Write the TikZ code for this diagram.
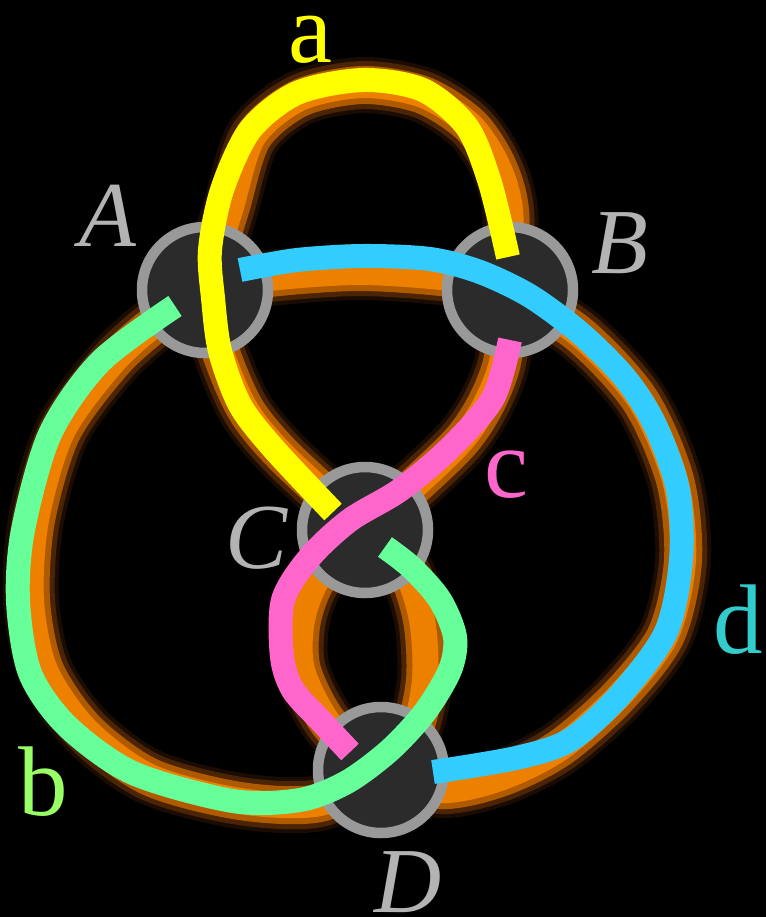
\documentclass[tikz,border=0pt]{standalone}
\usepackage{fontspec}
\setmainfont{Liberation Serif}
\definecolor{glowfringe}{HTML}{1A0C02}
\definecolor{glowdark}{HTML}{4A2404}
\definecolor{glowmid}{HTML}{B05A00}
\definecolor{glowcore}{HTML}{EE8000}
\definecolor{vfill}{HTML}{2B2B2B}
\definecolor{vring}{HTML}{999999}
\definecolor{capgrey}{HTML}{B3B3B3}
\definecolor{sa}{HTML}{FFFF00}
\definecolor{sb}{HTML}{66FF99}
\definecolor{sc}{HTML}{FF66CC}
\definecolor{sd}{HTML}{33CCFF}
\definecolor{lb}{HTML}{99FF66}
\definecolor{ld}{HTML}{33CCCC}
\tikzset{
  vertex/.style={circle, minimum size=126pt, inner sep=0pt, fill=vfill, draw=vring, line width=10.5pt},
  strand/.style={line width=24pt, line cap=butt, line join=round},
  capl/.style={text=capgrey, inner sep=0pt, anchor=base, font=\fontsize{93}{93}\selectfont\itshape},
  lowl/.style={inner sep=0pt, anchor=base, font=\fontsize{99}{99}\selectfont},
}
\begin{document}
\begin{tikzpicture}[x=1pt,y=-1pt]
\fill[black] (0,0) rectangle (766,917);
\useasboundingbox (0,0) rectangle (766,917);
% vertex positions
\coordinate (cA) at (205,290);
\coordinate (cB) at (510,290);
\coordinate (cC) at (365,530);
\coordinate (cD) at (381,770);
% glow (underlying knot shadow)
\foreach \w/\c in {56/glowfringe,48/glowdark,38/glowmid,26/glowcore}{
  \draw[line width=\w pt, draw=\c, line cap=round, line join=round]
    plot[smooth] coordinates {(cA) (230,210) (253,137) (300,98) (363,85) (423,95) (470,125) (497,165) (510,210) (cB)}
    plot[smooth] coordinates {(cA) (270,278) (360,272) (450,278) (cB)}
    plot[smooth] coordinates {(cA) (220,350) (246,410) (286,458) (cC)}
    plot[smooth] coordinates {(cB) (500,370) (462,440) (cC)}
    plot[smooth] coordinates {(cA) (160,320) (113,362) (62,432) (36,520) (31,600) (45,670) (86,730) (150,777) (240,801) (320,803) (cD)}
    plot[smooth] coordinates {(cB) (580,335) (640,400) (675,480) (683,560) (666,635) (620,695) (560,748) (500,778) (440,790) (cD)}
    plot[smooth] coordinates {(cC) (320,575) (302,620) (302,670) (330,725) (cD)}
    plot[smooth] coordinates {(cC) (405,570) (422,620) (425,680) (412,735) (cD)};
}
% vertices
\node[vertex] (A) at (cA) {};
\node[vertex] (B) at (cB) {};
\node[vertex] (C) at (cC) {};
\node[vertex] (D) at (cD) {};
% strand ends
\coordinate (a1) at (508,257);
\coordinate (a2) at (333,512);
\coordinate (b1) at (175,306);
\coordinate (b2) at (385,547);
\coordinate (c1) at (510,340);
\coordinate (c2) at (350,752);
\coordinate (d1) at (240,270);
\coordinate (d2) at (433,772);
% strands
\draw[strand, sd] plot[smooth] coordinates {(d1) (297,260) (363,256) (430,259) (480,272) (530,296) (580,333) (625,378) (655,425) (678,490) (681,560) (666,632) (620,695) (570,740) (516,758) (d2)};
\draw[strand, sa] plot[smooth] coordinates {(a1) (490,183) (467,127) (423,90) (363,80) (297,93) (250,130) (222,190) (210,250) (213,298) (220,351) (240,405) (273,448) (a2)};
\draw[strand, sb] plot[smooth] coordinates {(b1) (100,362) (50,434) (23,530) (18,601) (30,673) (67,726) (133,773) (233,801) (300,800) (347,782) (390,750) (425,712) (450,670) (455,637) (440,600) (412,568) (b2)};
\draw[strand, sc] plot[smooth] coordinates {(c1) (493,398) (450,448) (400,490) (350,520) (310,557) (283,600) (282,657) (293,690) (320,720) (c2)};
% labels
\node[capl] (lA) at (108,246) {A};
\node[capl] (lB) at (620,273) {B};
\node[capl] (lC) at (257,568) {C};
\node[capl] (lD) at (408,912) {D};
\node[lowl, text=sa] (la) at (310,63) {a};
\node[lowl, text=lb] (lb) at (43,815) {b};
\node[lowl, text=sc] (lc) at (506,497) {c};
\node[lowl, text=ld] (ld) at (738,653) {d};
\end{tikzpicture}
\end{document}
